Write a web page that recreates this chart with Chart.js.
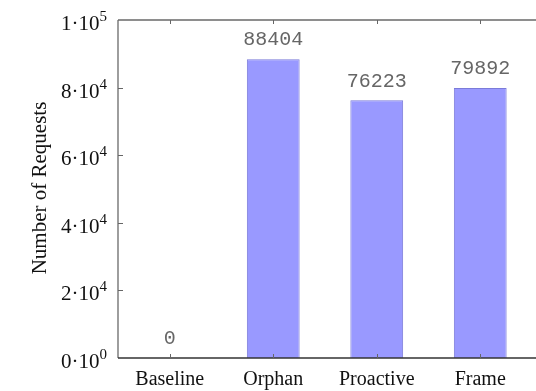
<!DOCTYPE html>
<html>
<head>
<meta charset="utf-8">
<script src="https://cdn.jsdelivr.net/npm/chart.js@4/dist/chart.umd.min.js"></script>
<style>
  html, body { margin: 0; padding: 0; background: #fff; }
  #wrap { width: 536px; height: 391px; }
</style>
</head>
<body>
<div id="wrap"><canvas id="reqChart" width="536" height="391"></canvas></div>
<script>
// data
const categories = ['Baseline', 'Orphan', 'Proactive', 'Frame'];
const requests = [0, 88404, 76223, 79892];
const yTicks = [0, 20000, 40000, 60000, 80000, 100000];
const yTickMant = ['0', '2', '4', '6', '8', '1'];
const yTickExp = ['0', '4', '4', '4', '4', '5'];
const yTitle = 'Number of Requests';

const serif = '"Liberation Serif", "Times New Roman", serif';
const mono = '"Liberation Mono", "Courier New", monospace';

// draws the gnuplot-style frame, ticks, tick labels and value labels
const gnuplotLook = {
  id: 'gnuplotLook',
  afterDatasetsDraw(chart) {
    const ctx = chart.ctx;
    const area = chart.chartArea;
    const x = chart.scales.x;
    const y = chart.scales.y;
    ctx.save();

    // frame: left, top, bottom (no right side)
    ctx.strokeStyle = '#6a6a6a';
    ctx.lineWidth = 1.3;
    ctx.beginPath();
    ctx.moveTo(area.left, area.top);
    ctx.lineTo(chart.width, area.top);
    ctx.moveTo(area.left, area.top);
    ctx.lineTo(area.left, area.bottom);
    ctx.stroke();
    ctx.strokeStyle = '#333';
    ctx.beginPath();
    ctx.moveTo(area.left, area.bottom);
    ctx.lineTo(chart.width, area.bottom);
    ctx.stroke();

    // y ticks (inward) and labels
    ctx.strokeStyle = '#666';
    ctx.lineWidth = 1;
    yTicks.forEach((v, i) => {
      const py = Math.round(y.getPixelForValue(v)) + 0.5;
      if (i > 0 && i < yTicks.length - 1) {
        ctx.beginPath();
        ctx.moveTo(area.left, py);
        ctx.lineTo(area.left + 5, py);
        ctx.stroke();
      }
      const base = yTickMant[i] + '\u00b710';
      ctx.font = '15px ' + serif;
      const expW = ctx.measureText(yTickExp[i]).width;
      const right = area.left - 11;
      ctx.fillStyle = '#111';
      ctx.textBaseline = 'alphabetic';
      ctx.textAlign = 'right';
      ctx.fillText(yTickExp[i], right, py + 0.5);
      ctx.font = '21px ' + serif;
      ctx.fillText(base, right - expW, py + 9);
    });

    // category ticks on top (down) and bottom (up)
    categories.forEach((c, i) => {
      const px = Math.round(x.getPixelForValue(i)) + 0.5;
      ctx.beginPath();
      ctx.moveTo(px, area.top);
      ctx.lineTo(px, area.top + 4);
      ctx.moveTo(px, area.bottom);
      ctx.lineTo(px, area.bottom - 4);
      ctx.stroke();
    });

    // value labels above bars
    ctx.fillStyle = '#666';
    ctx.font = '20px ' + mono;
    ctx.textAlign = 'center';
    ctx.textBaseline = 'middle';
    requests.forEach((v, i) => {
      const px = x.getPixelForValue(i);
      const py = y.getPixelForValue(v) - 19;
      ctx.fillText(String(v), px, py);
    });

    // y axis title
    ctx.fillStyle = '#111';
    ctx.font = '21px ' + serif;
    ctx.translate(40, 188);
    ctx.rotate(-Math.PI / 2);
    ctx.fillText(yTitle, 0, 0);
    ctx.restore();
  }
};

const chart = new Chart(document.getElementById('reqChart'), {
  type: 'bar',
  data: {
    labels: categories,
    datasets: [{
      label: yTitle,
      data: requests,
      backgroundColor: '#9999ff',
      borderColor: '#7b7bd9',
      borderWidth: 1,
      barPercentage: 0.51,
      categoryPercentage: 1.0,
    }],
  },
  options: {
    responsive: false,
    animation: false,
    layout: { padding: { top: 20, right: 4, left: 0, bottom: 0 } },
    plugins: {
      legend: { display: false },
      tooltip: { enabled: false },
    },
    scales: {
      x: {
        offset: true,
        grid: { display: false, drawTicks: false },
        border: { display: false },
        ticks: {
          color: '#111',
          font: { family: serif, size: 20 },
          padding: 10,
          maxRotation: 0,
        },
        afterFit: (s) => { s.height = 33; },
      },
      y: {
        min: 0,
        max: 100000,
        grid: { display: false, drawTicks: false },
        border: { display: false },
        ticks: { display: false, stepSize: 20000 },
        afterFit: (s) => { s.width = 118; },
      },
    },
  },
  plugins: [gnuplotLook],
});
</script>
</body>
</html>
